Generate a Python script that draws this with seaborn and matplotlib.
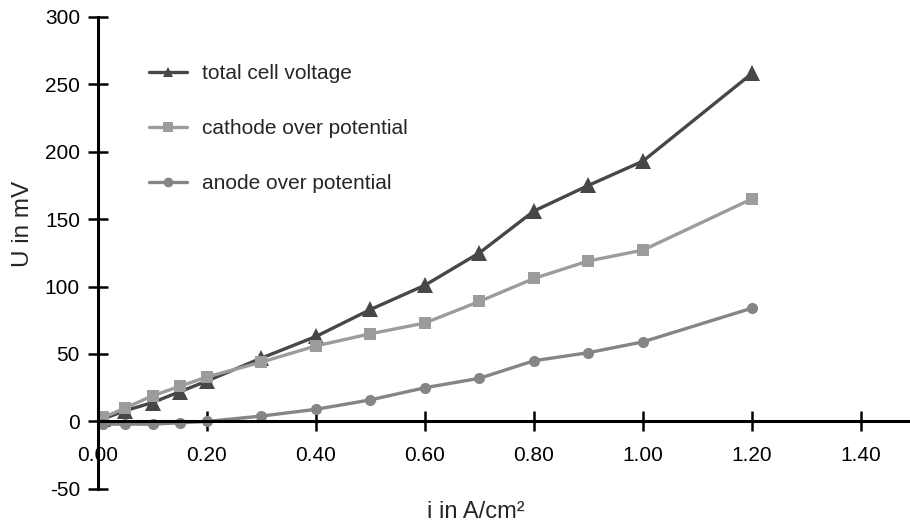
import numpy as np
import pandas as pd
import matplotlib
matplotlib.use("Agg")
import matplotlib.pyplot as plt
import seaborn as sns

# current density in A/cm2
current = [0.0, 0.01, 0.05, 0.10, 0.15, 0.20, 0.30, 0.40, 0.50, 0.60, 0.70, 0.80, 0.90, 1.00, 1.20]
# voltages in mV
total_cell = [0, 2, 8, 14, 22, 30, 47, 63, 83, 101, 125, 156, 175, 193, 258]
cathode = [0, 3, 10, 19, 26, 33, 44, 56, 65, 73, 89, 106, 119, 127, 165]
anode = [-2, -2, -2, -2, -1, 0, 4, 9, 16, 25, 32, 45, 51, 59, 84]

series_names = ["total cell voltage", "cathode over potential", "anode over potential"]
x_ticks = [0.0, 0.2, 0.4, 0.6, 0.8, 1.0, 1.2, 1.4]
y_ticks = [-50, 0, 50, 100, 150, 200, 250, 300]

df = pd.concat([
    pd.DataFrame({"i": current, "U": total_cell, "series": series_names[0]}),
    pd.DataFrame({"i": current, "U": cathode, "series": series_names[1]}),
    pd.DataFrame({"i": current, "U": anode, "series": series_names[2]}),
])

sns.set_style("white")
plt.rcParams["font.family"] = ["Liberation Sans", "DejaVu Sans"]
plt.rcParams["axes.unicode_minus"] = False

fig = plt.figure(figsize=(9.1, 5.24), dpi=100)
ax = fig.add_axes([0.1077, 0.067, 0.8923, 0.901])

palette = {series_names[0]: "#474747", series_names[1]: "#9c9c9c", series_names[2]: "#858585"}
markers = {series_names[0]: "^", series_names[1]: "s", series_names[2]: "o"}
msize = {"^": 11, "s": 8, "o": 8}

sns.lineplot(data=df, x="i", y="U", hue="series", style="series", palette=palette,
             markers=markers, dashes=False, linewidth=2.4, markersize=8,
             markeredgewidth=0, ax=ax)
for ln in ax.lines:
    m = ln.get_marker()
    if m in msize:
        ln.set_markersize(msize[m])

ax.set_xlim(0, 1.49)
ax.set_ylim(-50, 300)
ax.set_xticks(x_ticks)
ax.set_xticklabels([f"{t:.2f}" for t in x_ticks])
ax.set_yticks(y_ticks)

ax.spines["left"].set_position(("data", 0))
ax.spines["bottom"].set_position(("data", 0))
ax.spines["right"].set_visible(False)
ax.spines["top"].set_visible(False)
for s in ["left", "bottom"]:
    ax.spines[s].set_linewidth(2.2)
    ax.spines[s].set_color("black")
ax.tick_params(axis="both", bottom=True, left=True, direction="inout", length=14,
               width=1.8, labelsize=15, colors="black")
ax.tick_params(axis="x", pad=11)
ax.tick_params(axis="y", pad=6)

ax.set_xlabel("")
ax.set_ylabel("")
fig.text(0.523, 0.023, "i in A/cm²", ha="center", va="center", fontsize=17)
fig.text(0.025, 0.573, "U in mV", ha="center", va="center", rotation=90, fontsize=17.5)

leg = ax.legend(loc="upper left", bbox_to_anchor=(0.04, 0.94), frameon=False,
                fontsize=15, labelspacing=1.74, handlelength=1.8, handletextpad=0.75)
for h in leg.legend_handles:
    h.set_markersize(7)

fig.savefig("out.png", dpi=100)
